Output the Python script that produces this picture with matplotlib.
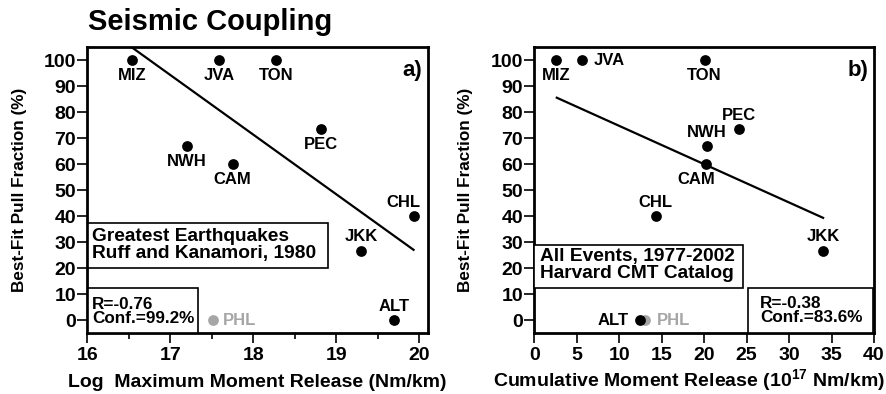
import matplotlib
matplotlib.use("Agg")
import matplotlib.pyplot as plt
from matplotlib.ticker import MultipleLocator
from matplotlib.patches import Rectangle

plt.rcParams['font.family'] = ['Liberation Sans', 'DejaVu Sans']
plt.rcParams['font.weight'] = 'bold'
plt.rcParams['mathtext.fontset'] = 'custom'
plt.rcParams['mathtext.bf'] = 'Liberation Sans:bold'

names = ["MIZ", "JVA", "TON", "PEC", "NWH", "CAM", "CHL", "JKK", "ALT"]
pull_fraction = [100, 100, 100, 73.5, 66.9, 60.1, 40, 26.7, 0]
log_max_moment = [16.54, 17.59, 18.27, 18.82, 17.2, 17.75, 19.93, 19.3, 19.7]
cum_moment = [2.56, 5.66, 20.05, 24.06, 20.3, 20.2, 14.3, 34.0, 12.46]
phl_name = "PHL"
phl_pull = 0
phl_log_max = 17.51
phl_cum = 13.05

fit_a_x = [16.53, 19.93]
fit_a_y = [105, 27]
fit_b_x = [2.64, 34.0]
fit_b_y = [85.5, 39.3]

GRAY = '#a6a6a6'
LABEL_FS = 12

# label offsets (points) and alignment per point
lab_a = {"MIZ": (0, -11, 'center'), "JVA": (0, -11, 'center'), "TON": (0, -11, 'center'),
         "PEC": (0, -11, 'center'), "NWH": (0, -11.3, 'center'), "CAM": (0, -11, 'center'),
         "CHL": (-7.5, 9.5, 'center'), "JKK": (0, 10, 'center'), "ALT": (0, 10, 'center')}
lab_b = {"MIZ": (0, -11, 'center'), "JVA": (8, 0, 'left'), "TON": (0, -11, 'center'),
         "PEC": (0, 10, 'center'), "NWH": (0, 9.6, 'center'), "CAM": (-7, -11, 'center'),
         "CHL": (0, 9.5, 'center'), "JKK": (0, 10, 'center'), "ALT": (-8.5, 0, 'right')}

fig = plt.figure(figsize=(8.86, 3.94), dpi=100)
axa = fig.add_axes([0.0986, 0.1548, 0.3841, 0.7259])
axb = fig.add_axes([0.6031, 0.1548, 0.3834, 0.7259])

def style(ax, ylab_x):
    for s in ax.spines.values():
        s.set_linewidth(2)
    ax.set_ylim(-5, 105)
    ax.yaxis.set_major_locator(MultipleLocator(10))
    ax.tick_params(axis='both', which='major', direction='out', length=7, width=1.2,
                   labelsize=14)
    ax.tick_params(axis='y', which='major', pad=1)
    ax.tick_params(axis='x', which='major', pad=3)
    ax.tick_params(axis='both', which='minor', direction='out', length=4, width=1.2)
    for lab in ax.get_xticklabels() + ax.get_yticklabels():
        lab.set_fontweight('bold')
    ax.set_ylabel("Best-Fit Pull Fraction (%)", fontsize=12.3, fontweight='bold')
    ax.yaxis.set_label_coords(ylab_x, 0.5)

def set_xlab(ax, text, xc):
    ax.set_xlabel(text, fontsize=14, fontweight='bold')
    ax.xaxis.set_label_coords(xc, -0.189)
    ax.xaxis.label.set_va('baseline')

def annotate(ax, xs, labs):
    for n, x, y in zip(names, xs, pull_fraction):
        dx, dy, ha = labs[n]
        ax.annotate(n, (x, y), xytext=(dx, dy), textcoords='offset points',
                    ha=ha, va='center', fontsize=LABEL_FS, fontweight='bold')

def box(ax, x0, y0, x1, y1, tx, ty, text, fs):
    ax.add_patch(Rectangle((x0, y0), x1 - x0, y1 - y0, transform=ax.transAxes,
                           fc='white', ec='black', lw=1.2, zorder=5, clip_on=False))
    ax.text(tx, ty, text, transform=ax.transAxes, ha='left', va='center',
            fontsize=fs, fontweight='bold', linespacing=0.95, zorder=6)

# Panel a
axa.plot(fit_a_x, fit_a_y, color='black', lw=1.6, zorder=2)
axa.scatter(log_max_moment, pull_fraction, s=60, color='black', zorder=3, linewidths=0)
axa.scatter([phl_log_max], [phl_pull], s=60, color=GRAY, zorder=3, linewidths=0)
axa.annotate(phl_name, (phl_log_max, phl_pull), xytext=(7.5, 0), textcoords='offset points',
             ha='left', va='center', fontsize=LABEL_FS, fontweight='bold', color=GRAY)
annotate(axa, log_max_moment, lab_a)
axa.set_xlim(16, 20.1)
axa.xaxis.set_major_locator(MultipleLocator(1))
axa.xaxis.set_minor_locator(MultipleLocator(0.5))
style(axa, -0.177)
set_xlab(axa, "Log  Maximum Moment Release (Nm/km)", 0.5)
axa.text(0.985, 0.955, "a)", transform=axa.transAxes, ha='right', va='top',
         fontsize=16, fontweight='bold')
box(axa, 0.002, 0.227, 0.708, 0.385, 0.014, 0.308,
    "Greatest Earthquakes\nRuff and Kanamori, 1980", 13.8)
box(axa, 0.002, 0.0, 0.325, 0.157, 0.014, 0.075, "R=-0.76\nConf.=99.2%", 12.3)

# Panel b
axb.plot(fit_b_x, fit_b_y, color='black', lw=1.6, zorder=2)
axb.scatter([phl_cum], [phl_pull], s=60, color=GRAY, zorder=3, linewidths=0)
axb.scatter(cum_moment, pull_fraction, s=60, color='black', zorder=4, linewidths=0)
axb.annotate(phl_name, (phl_cum, phl_pull), xytext=(8.4, 0), textcoords='offset points',
             ha='left', va='center', fontsize=LABEL_FS, fontweight='bold', color=GRAY)
annotate(axb, cum_moment, lab_b)
axb.set_xlim(0, 40)
axb.xaxis.set_major_locator(MultipleLocator(5))
style(axb, -0.180)
set_xlab(axb, "Cumulative Moment Release (10$^{\\mathbf{17}}$ Nm/km)", 0.455)
axb.text(0.985, 0.955, "b)", transform=axb.transAxes, ha='right', va='top',
         fontsize=16, fontweight='bold')
box(axb, 0.0, 0.157, 0.614, 0.308, 0.017, 0.238,
    "All Events, 1977-2002\nHarvard CMT Catalog", 13.8)
box(axb, 0.6285, 0.0, 0.998, 0.157, 0.665, 0.078, "R=-0.38\nConf.=83.6%", 12.3)

fig.text(0.099, 0.943, "Seismic Coupling", fontsize=21, fontweight='bold', ha='left', va='center')

fig.savefig("out.png", dpi=100)
